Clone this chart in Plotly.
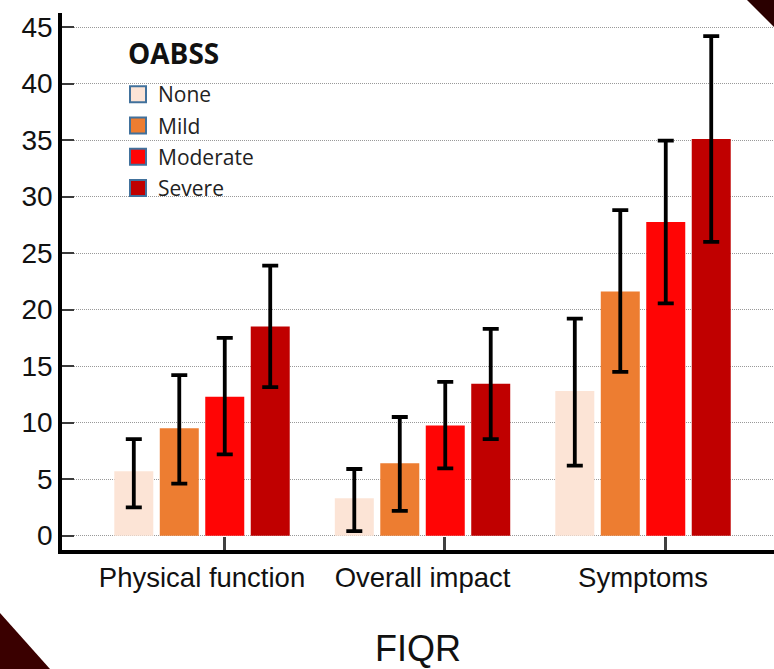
import plotly.graph_objects as go

# ---- data ----
categories = ["Physical function", "Overall impact", "Symptoms"]
levels = ["None", "Mild", "Moderate", "Severe"]
legend_title = "OABSS"
x_title = "FIQR"

none_mean = [5.7, 3.3, 12.8]
none_plus = [2.85, 2.6, 6.4]
none_minus = [3.2, 2.9, 6.6]

mild_mean = [9.5, 6.4, 21.6]
mild_plus = [4.7, 4.1, 7.2]
mild_minus = [4.9, 4.2, 7.1]

moderate_mean = [12.3, 9.75, 27.75]
moderate_plus = [5.2, 3.85, 7.2]
moderate_minus = [5.1, 3.8, 7.2]

severe_mean = [18.5, 13.45, 35.1]
severe_plus = [5.4, 4.85, 9.1]
severe_minus = [5.35, 4.9, 9.1]

y_ticks = [0, 5, 10, 15, 20, 25, 30, 35, 40, 45]

# ---- styling ----
colors = ["#FCE4D6", "#ED7D31", "#FF0505", "#C00000"]
legend_edge = "#41719C"
axis_font = "Liberation Sans, Arial, sans-serif"
legend_font = "Open Sans, Noto Sans, sans-serif"

W, H = 774, 669
ML, MR, MT, MB = 62, 0, 13, 119
PW, PH = W - ML - MR, H - MT - MB

series = [
    (none_mean, none_plus, none_minus),
    (mild_mean, mild_plus, mild_minus),
    (moderate_mean, moderate_plus, moderate_minus),
    (severe_mean, severe_plus, severe_minus),
]

xpos = list(range(len(categories)))
fig = go.Figure()

for name, color, (m, p, n) in zip(levels, colors, series):
    fig.add_trace(go.Bar(
        x=xpos, y=m, name=name, showlegend=False,
        marker=dict(color=color, line=dict(width=0)),
        error_y=dict(type="data", symmetric=False, array=p, arrayminus=n,
                     color="black", thickness=3.8, width=8),
    ))

# legend entries (square swatches with blue-grey edge)
for name, color in zip(levels, colors):
    fig.add_trace(go.Scatter(
        x=[None], y=[None], xaxis="x2", mode="markers", name=name,
        legendgroup=name,
        marker=dict(symbol="square", size=16, color=color,
                    line=dict(color=legend_edge, width=2)),
    ))

xr = [-0.635, -0.635 + PW / 220.5]


def px_x(p):
    return (p - ML) / PW


def px_y(p):
    return (H - MB - p) / PH


fig.update_layout(
    width=W, height=H,
    margin=dict(l=ML, r=MR, t=MT, b=MB),
    paper_bgcolor="white", plot_bgcolor="white",
    barmode="group", bargap=0.175, bargroupgap=0.1425,
    xaxis=dict(
        range=xr, tickvals=xpos, ticktext=categories, ticks="",
        showline=True, linecolor="black", linewidth=4,
        showgrid=False, zeroline=False,
        tickfont=dict(family=axis_font, size=27.5, color="#111111"),
        title=dict(text=x_title, standoff=46,
                   font=dict(family=axis_font, size=36, color="#111111")),
    ),
    xaxis2=dict(
        overlaying="x", anchor="y", side="bottom", range=xr,
        tickvals=[v + 0.1 for v in xpos], ticks="inside", ticklen=13,
        tickwidth=2.5, tickcolor="#404040", showticklabels=False,
        showgrid=False, showline=False, zeroline=False,
    ),
    yaxis=dict(
        range=[-1.27, 46.25], tickvals=y_ticks, ticks="inside", ticklen=12,
        tickwidth=2, tickcolor="#3a3a3a",
        showline=True, linecolor="black", linewidth=3.5,
        showgrid=True, gridcolor="#999999", griddash="1px,1px", gridwidth=1,
        zeroline=False,
        tickfont=dict(family=axis_font, size=28, color="#111111"),
    ),
    legend=dict(
        x=px_x(118), y=px_y(74), xanchor="left", yanchor="top",
        bgcolor="rgba(0,0,0,0)", itemsizing="trace", tracegroupgap=1,
        font=dict(family=legend_font, size=21, color="#222222"),
    ),
    annotations=[
        dict(text=f"<b>{legend_title}</b>", xref="paper", yref="paper",
             x=px_x(126), y=px_y(53), xanchor="left", yanchor="middle",
             showarrow=False,
             font=dict(family=legend_font, size=28, color="#111111")),
    ],
    shapes=[
        dict(type="path", xref="paper", yref="paper",
             path=f"M {px_x(0)},{px_y(613)} L {px_x(50)},{px_y(669)} L {px_x(0)},{px_y(669)} Z",
             fillcolor="#3A0000", line=dict(width=0), layer="above"),
        dict(type="path", xref="paper", yref="paper",
             path=f"M {px_x(747)},{px_y(0)} L {px_x(774)},{px_y(0)} L {px_x(774)},{px_y(27)} Z",
             fillcolor="#2A0000", line=dict(width=0), layer="above"),
    ],
)

fig.write_html("out.html")
